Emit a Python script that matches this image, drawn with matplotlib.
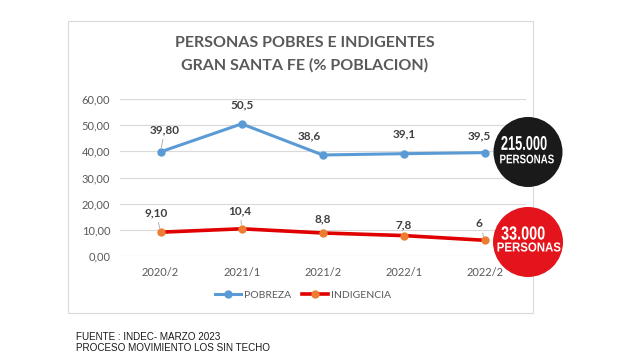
import matplotlib
matplotlib.use("Agg")
import matplotlib.pyplot as plt
from matplotlib.patches import Ellipse, Rectangle, PathPatch
from matplotlib.textpath import TextPath
from matplotlib.font_manager import FontProperties
from matplotlib.transforms import Affine2D

# datos del grafico
periodos = ["2020/2", "2021/1", "2021/2", "2022/1", "2022/2"]
pobreza = [39.80, 50.5, 38.6, 39.1, 39.5]
indigencia = [9.10, 10.4, 8.8, 7.8, 6.0]
etiq_pobreza = ["39,80", "50,5", "38,6", "39,1", "39,5"]
etiq_indigencia = ["9,10", "10,4", "8,8", "7,8", "6"]
yticks = [0, 10, 20, 30, 40, 50, 60]

W, H = 642, 361
plt.rcParams['font.family'] = ['Lato', 'DejaVu Sans']
fig = plt.figure(figsize=(W / 100, H / 100), dpi=100)
fig.patch.set_facecolor("white")

# marco del grafico
fig.add_artist(Rectangle((68 / W, 1 - 313 / H), (533 - 68) / W, (313 - 21) / H,
                         transform=fig.transFigure, fill=False,
                         edgecolor="#d9d9d9", lw=0.8))

ax = fig.add_axes([120 / W, 1 - 256 / H, (525.5 - 120) / W, (256 - 99) / H])
x = list(range(len(periodos)))
ax.plot(x, pobreza, color="#5b9bd5", lw=2.2, marker="o", ms=5,
        markerfacecolor="#5b9bd5", markeredgecolor="#5b9bd5", label="POBREZA", zorder=3)
ax.plot(x, indigencia, color="#e00000", lw=2.6, marker="o", ms=5,
        markerfacecolor="#ed7d31", markeredgecolor="#ed7d31", label="INDIGENCIA", zorder=3)

ax.set_xlim(-0.5, 4.5)
ax.set_ylim(0, 60)
ax.set_yticks(yticks)
ax.set_yticklabels([f"{v:.2f}".replace(".", ",") for v in yticks])
ax.set_xticks(x)
ax.set_xticklabels(periodos)
ax.tick_params(length=0, labelsize=8, colors="#595959", pad=8)
ax.tick_params(axis="y", pad=7)
ax.grid(axis="y", color="#d9d9d9", lw=0.8)
ax.set_axisbelow(True)
for s in ax.spines.values():
    s.set_visible(False)

# etiquetas de datos (desplazamientos en puntos)
off_pob = [(3, 12), (0, 10), (-10, 10), (0, 10), (-4, 8)]
off_ind = [(-3, 10), (-1, 9), (0, 6), (0, 4), (-4, 8)]
guia_pob = [True, False, False, False, False]
guia_ind = [True, True, False, False, True]
for i in x:
    ap = dict(arrowstyle="-", color="#a6a6a6", lw=0.6, shrinkA=1, shrinkB=3) if guia_pob[i] else None
    ax.annotate(etiq_pobreza[i], (i, pobreza[i]), xytext=off_pob[i], textcoords="offset points",
                ha="center", va="bottom", fontsize=8.5, fontweight="bold", color="#404040",
                arrowprops=ap)
    ap = dict(arrowstyle="-", color="#a6a6a6", lw=0.6, shrinkA=1, shrinkB=3) if guia_ind[i] else None
    ax.annotate(etiq_indigencia[i], (i, indigencia[i]), xytext=off_ind[i], textcoords="offset points",
                ha="center", va="bottom", fontsize=8.5, fontweight="bold", color="#404040",
                arrowprops=ap)

fig.legend(loc="center", bbox_to_anchor=(303 / W, 1 - 295 / H), ncol=2, frameon=False,
           fontsize=7.5, labelcolor="#595959", handlelength=2.5, handletextpad=0.3,
           columnspacing=1.0)

# titulo
fig.text(305 / W, 1 - 43 / H, "PERSONAS POBRES E INDIGENTES", ha="center", va="center",
         fontsize=11.5, fontweight="bold", color="#595959")
fig.text(305 / W, 1 - 65 / H, "GRAN SANTA FE (% POBLACION)", ha="center", va="center",
         fontsize=11.5, fontweight="bold", color="#595959")

# circulos con cantidad de personas
fig.add_artist(Ellipse((528 / W, 1 - 152 / H), 69 / W, 70 / H, transform=fig.transFigure,
                       facecolor="#1a1a1a", edgecolor="none", zorder=5))
fig.add_artist(Ellipse((528 / W, 1 - 242 / H), 70 / W, 70 / H, transform=fig.transFigure,
                       facecolor="#e3141b", edgecolor="none", zorder=5))

fuente_circ = FontProperties(family="Liberation Sans", weight="bold")


def texto_estrecho(txt, cx, cy, size, sx):
    # texto comprimido en horizontal, centrado en (cx, cy) en pixeles
    tp = TextPath((0, 0), txt, size=size, prop=fuente_circ)
    bb = tp.get_extents()
    tr = (Affine2D().translate(-(bb.x0 + bb.x1) / 2, -(bb.y0 + bb.y1) / 2)
          .scale(sx, 1).translate(cx, H - cy))
    fig.add_artist(PathPatch(tp, transform=tr, facecolor="white", edgecolor="none", zorder=6))


texto_estrecho("215.000", 524, 143, 20, 0.64)
texto_estrecho("PERSONAS", 527, 159, 12.5, 0.78)
texto_estrecho("33.000", 523, 233, 19, 0.76)
texto_estrecho("PERSONAS", 529, 247, 13, 0.88)

# fuente
fig.text(76 / W, 1 - 337 / H, "FUENTE : INDEC- MARZO 2023", ha="left", va="center",
         fontsize=7.1, color="#1a1a1a", family=['Liberation Sans', 'DejaVu Sans'])
fig.text(76 / W, 1 - 348 / H, "PROCESO MOVIMIENTO LOS SIN TECHO", ha="left", va="center",
         fontsize=7.1, color="#1a1a1a", family=['Liberation Sans', 'DejaVu Sans'])

fig.savefig("out.png", dpi=100)
